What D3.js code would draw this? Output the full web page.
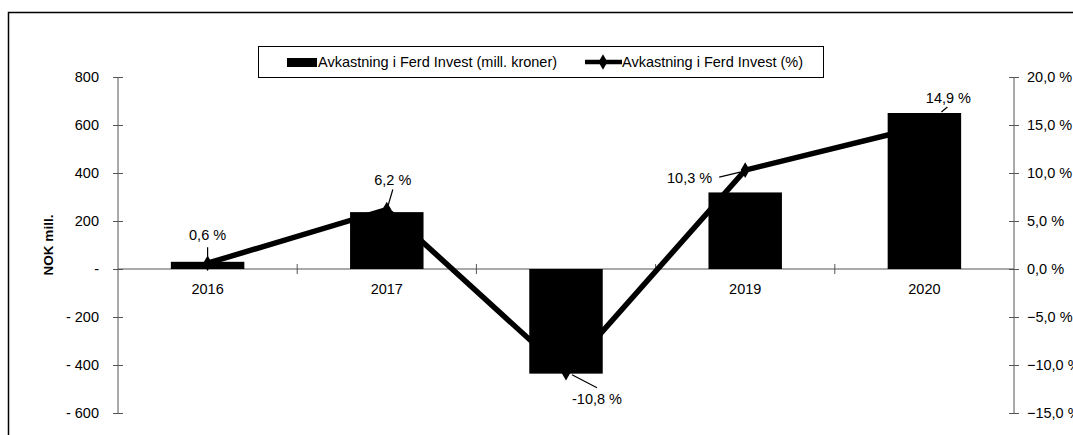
<!DOCTYPE html>
<html>
<head>
<meta charset="utf-8">
<script src="https://cdn.jsdelivr.net/npm/d3@7"></script>
<style>
  body { margin: 0; background: #fff; }
  text { font-family: "Liberation Sans", Arial, sans-serif; }
</style>
</head>
<body>
<div id="chart"></div>
<script>
// chart data
const years = ["2016", "2017", "2018", "2019", "2020"];
const returnMill = [30, 237, -436, 319, 650];
const returnPct = [0.6, 6.2, -10.8, 10.3, 14.9];
const pctLabels = ["0,6 %", "6,2 %", "-10,8 %", "10,3 %", "14,9 %"];
const leftTicks = [800, 600, 400, 200, 0, -200, -400, -600];
const rightTicks = [20, 15, 10, 5, 0, -5, -10, -15];
const seriesNames = ["Avkastning i Ferd Invest (mill. kroner)", "Avkastning i Ferd Invest (%)"];

// label placement relative to the point (dx, dy, anchor, leader from/to)
const labelStyle = [
    { dx: 0, dy: -23, anchor: "middle", l: [[0, -16], [0, -5]] },
    { dx: 6, dy: -24, anchor: "middle", l: [[6, -20], [1, -3]] },
    { dx: 31, dy: 31, anchor: "middle", l: [[6, 2], [31, 15]] },
    { dx: -33, dy: 13, anchor: "end", l: [[-26, 7], [-5, 2]] },
    { dx: 24, dy: -23, anchor: "middle", l: [[23, -19], [17, -14]] }
];

const width = 1073, height = 435;
const margin = { left: 118, right: 59, top: 77, bottom: 22 };
const fontSize = "14.5px";

const svg = d3.select("#chart")
    .append("svg")
    .attr("width", width)
    .attr("height", height);

// outer frame
svg.append("rect")
    .attr("x", 8.5).attr("y", 12.5)
    .attr("width", width + 20).attr("height", height + 20)
    .attr("fill", "none").attr("stroke", "#000").attr("stroke-width", 1.5);

const x = d3.scaleBand()
    .domain(years)
    .range([margin.left, width - margin.right])
    .paddingInner(0.59)
    .paddingOuter(0.295);

const y = d3.scaleLinear()
    .domain([-600, 800])
    .range([height - margin.bottom, margin.top]);

const y2 = d3.scaleLinear()
    .domain([-15, 20])
    .range([height - margin.bottom, margin.top]);

const axisColor = "#555";

// left axis
const leftAxis = svg.append("g")
    .attr("transform", `translate(${margin.left},0)`)
    .call(d3.axisLeft(y).tickValues(leftTicks).tickSize(5).tickPadding(14)
        .tickFormat(d => d === 0 ? "-" : (d < 0 ? "- " + Math.abs(d) : d)));
leftAxis.select(".domain").attr("d", `M0,${y(800)}V${y(-600)}`);

// right axis
const rightAxis = svg.append("g")
    .attr("transform", `translate(${width - margin.right},0)`)
    .call(d3.axisRight(y2).tickValues(rightTicks).tickSize(5).tickPadding(9)
        .tickFormat(d => d3.format(".1f")(d).replace(".", ",") + " %"));
rightAxis.select(".domain").attr("d", `M0,${y2(20)}V${y2(-15)}`);

[leftAxis, rightAxis].forEach(g => {
    g.selectAll(".tick line").attr("stroke", axisColor)
        .attr("x1", function () { return -(+d3.select(this).attr("x2")); });
    g.select(".domain").attr("stroke", axisColor);
    g.selectAll(".tick text").attr("fill", "#000").style("font-size", fontSize)
        .attr("font-family", "Liberation Sans, Arial, sans-serif");
});
rightAxis.selectAll(".tick text").attr("x", 13);

// category axis along zero
const xAxis = svg.append("g")
    .attr("transform", `translate(0,${y(0)})`);
xAxis.append("line")
    .attr("x1", margin.left).attr("x2", width - margin.right)
    .attr("stroke", axisColor);
const step = x.step();
xAxis.selectAll(".sep")
    .data(years.slice(1))
    .enter()
    .append("line")
    .attr("x1", d => x(d) + x.bandwidth() / 2 - step / 2)
    .attr("x2", d => x(d) + x.bandwidth() / 2 - step / 2)
    .attr("y1", -5).attr("y2", 5)
    .attr("stroke", axisColor);
xAxis.selectAll(".cat")
    .data(years.filter(d => d !== "2018"))
    .enter()
    .append("text")
    .attr("x", d => x(d) + x.bandwidth() / 2)
    .attr("y", 25)
    .attr("text-anchor", "middle")
    .style("font-size", fontSize)
    .text(d => d);

// y title
svg.append("text")
    .attr("transform", `translate(53,${(y(800) + y(-600)) / 2}) rotate(-90)`)
    .attr("text-anchor", "middle")
    .attr("font-weight", "bold")
    .style("font-size", "13.5px")
    .text("NOK mill.");

const cx = i => x(years[i]) + x.bandwidth() / 2;

// percentage line (drawn under the bars)
const line = d3.line()
    .x((d, i) => cx(i))
    .y(d => y2(d));
svg.append("path")
    .datum(returnPct)
    .attr("d", line)
    .attr("fill", "none")
    .attr("stroke", "#000")
    .attr("stroke-width", 5.5);

const diamond = d3.symbol().type(d3.symbolDiamond).size(70);
svg.selectAll(".marker")
    .data(returnPct)
    .enter()
    .append("path")
    .attr("transform", (d, i) => `translate(${cx(i)},${y2(d)})`)
    .attr("d", diamond)
    .attr("fill", "#000");

// bars
svg.selectAll(".bar")
    .data(returnMill)
    .enter()
    .append("rect")
    .attr("x", (d, i) => x(years[i]))
    .attr("y", d => y(Math.max(0, d)))
    .attr("width", x.bandwidth())
    .attr("height", d => Math.abs(y(d) - y(0)))
    .attr("fill", "#000");

// data labels with leader lines
returnPct.forEach((v, i) => {
    const px = cx(i), py = y2(v), s = labelStyle[i];
    svg.append("line")
        .attr("x1", px + s.l[0][0]).attr("y1", py + s.l[0][1])
        .attr("x2", px + s.l[1][0]).attr("y2", py + s.l[1][1])
        .attr("stroke", "#000").attr("stroke-width", 1.2);
    svg.append("text")
        .attr("x", px + s.dx)
        .attr("y", py + s.dy)
        .attr("text-anchor", s.anchor)
        .style("font-size", fontSize)
        .text(pctLabels[i]);
});

// legend
const legend = svg.append("g");
legend.append("rect")
    .attr("x", 258.5).attr("y", 46.5)
    .attr("width", 565).attr("height", 31)
    .attr("fill", "#fff").attr("stroke", "#000");
legend.append("rect")
    .attr("x", 287).attr("y", 58)
    .attr("width", 30).attr("height", 9)
    .attr("fill", "#000");
legend.append("text")
    .attr("x", 318).attr("y", 67)
    .style("font-size", fontSize)
    .text(seriesNames[0]);
legend.append("line")
    .attr("x1", 585).attr("x2", 622)
    .attr("y1", 62).attr("y2", 62)
    .attr("stroke", "#000").attr("stroke-width", 4.5);
legend.append("path")
    .attr("transform", "translate(603,62)")
    .attr("d", diamond)
    .attr("fill", "#000");
legend.append("text")
    .attr("x", 622).attr("y", 67)
    .style("font-size", fontSize)
    .text(seriesNames[1]);
</script>
</body>
</html>
